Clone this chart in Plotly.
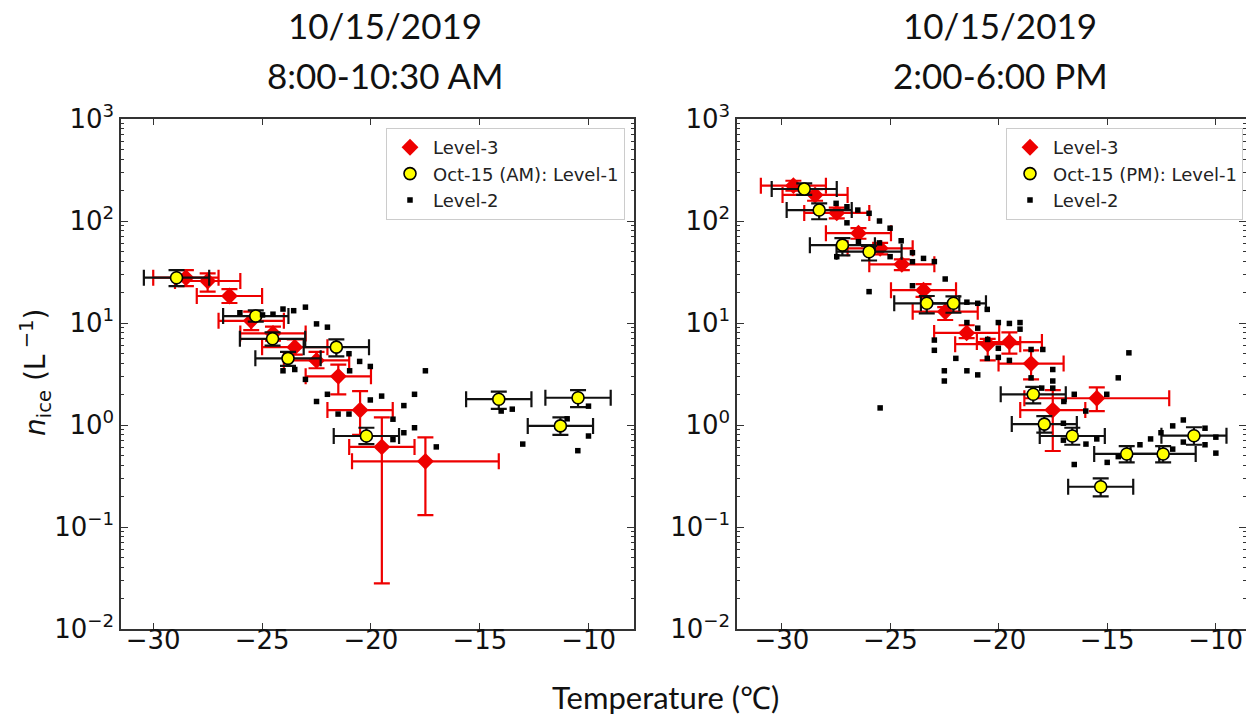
import numpy as np
import plotly.graph_objects as go

# ---------------- 10/15/2019, 8:00-10:30 AM ----------------
am_l3_T = [-28.5, -27.5, -26.5, -25.5, -24.5, -23.5, -22.5, -21.5, -20.5, -19.5, -17.5]
am_l3_n = [27.8, 25.8, 18.4, 10.5, 7.9, 5.8, 4.3, 3.0, 1.40, 0.61, 0.44]
am_l3_lo = [23.0, 20.3, 15.7, 8.5, 6.7, 4.9, 3.6, 2.0, 0.80, 0.028, 0.131]
am_l3_hi = [33.0, 30.7, 21.5, 12.9, 9.2, 6.9, 5.2, 3.9, 2.15, 1.19, 0.757]
am_l3_dT = [1.5, 1.5, 1.5, 1.5, 1.5, 1.5, 1.5, 1.5, 1.5, 1.5, 3.37]

am_l1_T = [-28.93, -25.29, -24.52, -23.81, -21.59, -20.21, -14.13, -11.30, -10.49]
am_l1_n = [27.8, 11.7, 7.0, 4.5, 5.8, 0.78, 1.79, 0.98, 1.85]
am_l1_lo = [23.0, 10.3, 6.0, 3.8, 4.7, 0.65, 1.44, 0.80, 1.50]
am_l1_hi = [33.0, 13.3, 8.1, 5.2, 6.9, 0.94, 2.12, 1.19, 2.20]
am_l1_dT = [1.5, 1.5, 1.5, 1.5, 1.5, 1.5, 1.5, 1.5, 1.5]

am_l2_T = [-24.04, -23.55, -23.01, -24.50, -22.50, -22.00, -21.01, -20.52, -20.03, -20.98,
           -23.01, -22.00, -22.50, -21.51, -21.01, -20.03, -24.04, -23.50, -24.98, -26.02,
           -17.50, -19.51, -18.00, -18.49, -18.99, -18.00, -18.49, -18.99, -17.00, -14.02,
           -13.51, -10.01, -10.99, -10.01, -13.03, -10.50]
am_l2_n = [13.7, 13.2, 14.3, 12.2, 9.8, 9.1, 5.0, 4.2, 3.75, 3.4,
           2.8, 2.0, 1.7, 1.28, 1.28, 1.76, 3.4, 3.5, 12.0, 12.6,
           3.4, 1.92, 2.0, 1.55, 1.14, 0.94, 0.84, 0.72, 0.61, 1.37,
           1.43, 1.53, 1.15, 0.78, 0.65, 0.56]

# ---------------- 10/15/2019, 2:00-6:00 PM ----------------
pm_l3_T = [-29.47, -28.47, -27.47, -26.47, -25.47, -24.47, -23.47, -22.47, -21.48, -20.51,
           -19.51, -18.51, -17.51, -15.48]
pm_l3_n = [222, 180, 120, 76, 54, 37.6, 21, 12.9, 8.0, 6.2, 6.5, 4.0, 1.40, 1.83]
pm_l3_lo = [198, 158, 106, 67, 47, 33, 18, 10.7, 7.1, 4.3, 5.0, 2.8, 0.556, 1.37]
pm_l3_hi = [248, 205, 135, 85, 61, 42, 24, 14.3, 9.5, 7.0, 8.1, 5.4, 2.20, 2.34]
pm_l3_dT = [1.5, 1.5, 1.5, 1.5, 1.5, 1.5, 1.5, 1.5, 1.5, 1.5, 1.5, 1.5, 1.5, 3.34]

pm_l1_T = [-28.97, -28.28, -27.21, -25.98, -23.32, -22.09, -18.41, -17.90, -16.61, -14.10,
           -12.42, -11.00, -15.30]
pm_l1_n = [206, 128, 58, 50, 15.6, 15.6, 2.0, 1.02, 0.78, 0.52, 0.52, 0.785, 0.248]
pm_l1_lo = [180, 104, 46, 41, 12.4, 12.6, 1.63, 0.84, 0.64, 0.43, 0.43, 0.64, 0.20]
pm_l1_hi = [234, 149, 68, 57, 18.4, 18.2, 2.37, 1.22, 0.94, 0.62, 0.62, 0.95, 0.30]
pm_l1_dT = [1.5, 1.5, 1.5, 1.5, 1.5, 1.5, 1.5, 1.5, 1.5, 1.5, 1.5, 1.5, 1.5]

pm_l2_T = [-27.50, -27.00, -26.50, -25.98, -27.00, -25.50, -25.01, -24.50, -25.50, -25.01,
           -23.98, -23.98, -23.47, -22.97, -25.98, -22.47, -23.98, -22.97, -22.97, -26.47,
           -27.47, -21.47, -20.53, -20.97, -21.47, -20.02, -19.51, -19.02, -19.02, -20.97,
           -21.98, -20.53, -20.02, -19.51, -20.02, -20.51, -18.51, -17.97, -22.51, -22.51,
           -21.47, -20.97, -17.51, -17.51, -18.51, -14.00, -14.49, -16.52, -15.02, -17.00,
           -15.99, -18.02, -17.51, -17.02, -17.02, -15.98, -15.48, -16.52, -15.00, -14.49,
           -13.49, -13.00, -11.98, -11.49, -11.49, -10.49, -10.49, -9.99, -9.99, -12.52,
           -11.98, -25.47]
pm_l2_n = [149, 138, 128, 119, 96, 100, 85, 64, 61, 44.7,
           48.9, 39.9, 43, 40, 20.3, 27, 23.2, 6.8, 5.4, 62.7,
           44.7, 16, 13.6, 15.6, 10.1, 10.1, 9.9, 10.1, 8.7, 8.9,
           4.5, 4.5, 4.6, 4.3, 5.65, 6.9, 5.5, 5.5, 3.4, 2.7,
           3.4, 3.1, 3.5, 2.7, 2.9, 5.1, 2.9, 2.0, 2.0, 1.7,
           1.37, 2.3, 2.3, 1.04, 0.71, 0.65, 0.73, 0.41, 0.43, 0.49,
           0.64, 0.73, 0.98, 1.12, 0.68, 0.93, 0.64, 0.76, 0.53, 0.84,
           0.58, 1.47]

# axis ticks
x_ticks = [-30, -25, -20, -15, -10]
y_exponents = [-2, -1, 0, 1, 2, 3]

RED = "#ee0000"
AXIS = "#333333"
TICK_FONT = dict(family="DejaVu Sans", size=26, color="#111111")
W, H = 1246, 715


def err(n, lo, hi):
    n, lo, hi = map(np.asarray, (n, lo, hi))
    return dict(type="data", symmetric=False, array=hi - n, arrayminus=n - lo)


fig = go.Figure()


def add_panel(xa, ya, legend, T3, n3, lo3, hi3, dT3, T1, n1, lo1, hi1, dT1, T2, n2, l1_name):
    fig.add_trace(go.Scatter(
        x=T3, y=n3, mode="markers", name="Level-3", xaxis=xa, yaxis=ya, legend=legend,
        marker=dict(symbol="diamond", size=13, color=RED, line=dict(width=0)),
        error_x=dict(type="data", array=dT3, color=RED, thickness=2.2, width=8),
        error_y=dict(**err(n3, lo3, hi3), color=RED, thickness=2.2, width=8),
    ))
    fig.add_trace(go.Scatter(
        x=T1, y=n1, mode="markers", name=l1_name, xaxis=xa, yaxis=ya, legend=legend,
        marker=dict(symbol="circle", size=12, color="#ffff00", line=dict(width=1.6, color="black")),
        error_x=dict(type="data", array=dT1, color="#111111", thickness=2.2, width=8),
        error_y=dict(**err(n1, lo1, hi1), color="#111111", thickness=2.2, width=8),
    ))
    fig.add_trace(go.Scatter(
        x=T2, y=n2, mode="markers", name="Level-2", xaxis=xa, yaxis=ya, legend=legend,
        marker=dict(symbol="square", size=5.5, color="black"),
    ))


add_panel("x", "y", "legend", am_l3_T, am_l3_n, am_l3_lo, am_l3_hi, am_l3_dT,
          am_l1_T, am_l1_n, am_l1_lo, am_l1_hi, am_l1_dT, am_l2_T, am_l2_n,
          "Oct-15 (AM): Level-1")
add_panel("x2", "y2", "legend2", pm_l3_T, pm_l3_n, pm_l3_lo, pm_l3_hi, pm_l3_dT,
          pm_l1_T, pm_l1_n, pm_l1_lo, pm_l1_hi, pm_l1_dT, pm_l2_T, pm_l2_n,
          "Oct-15 (PM): Level-1")

y_top, y_bot = 119, 629
ydom = [1 - y_bot / H, 1 - y_top / H]

xcommon = dict(
    tickmode="array", tickvals=x_ticks,
    ticks="inside", ticklen=6, tickwidth=1.3, tickcolor=AXIS, ticklabelstandoff=-13,
    showline=True, linecolor=AXIS, linewidth=1.5, mirror="ticks",
    showgrid=False, zeroline=False, tickfont=TICK_FONT, automargin=False,
)
ycommon = dict(
    type="log", range=[-2, 3], tickmode="array",
    tickvals=[10.0 ** e for e in y_exponents],
    ticktext=[f"10<sup>{e}</sup>".replace("-", "−") for e in y_exponents],
    ticks="inside", ticklen=7, tickwidth=1.3, tickcolor=AXIS,
    minor=dict(ticks="inside", ticklen=3.5, tickwidth=1, tickcolor=AXIS, dtick="D1", showgrid=False),
    showline=True, linecolor=AXIS, linewidth=1.5, mirror="ticks",
    showgrid=False, zeroline=False, tickfont=TICK_FONT, automargin=False,
)

LEG = dict(yanchor="top", xanchor="right", y=1 - 128 / H,
           bgcolor="white", bordercolor="#cccccc", borderwidth=1, itemwidth=36,
           font=dict(family="DejaVu Sans", size=18, color="#222222"), tracegroupgap=0)

fig.update_layout(
    width=W, height=H, margin=dict(l=0, r=0, t=0, b=0),
    paper_bgcolor="white", plot_bgcolor="white", showlegend=True,
    xaxis=dict(domain=[121 / W, 634 / W], range=[-31.48, -7.92], anchor="y", **xcommon),
    yaxis=dict(domain=ydom, anchor="x", **ycommon),
    xaxis2=dict(domain=[737 / W, 1.0], range=[-32.07, -8.60], anchor="y2", **xcommon),
    yaxis2=dict(domain=ydom, anchor="x2", **ycommon),
    legend=dict(x=625 / W, **LEG),
    legend2=dict(x=1243 / W, **LEG),
)

TITLE_FONT = dict(family="Lato", size=35, color="#111111")
for cx, lines in [(385, ["10/15/2019", "8:00-10:30 AM"]), (1000, ["10/15/2019", "2:00-6:00 PM"])]:
    for cy, txt in zip([25, 75], lines):
        fig.add_annotation(x=cx / W, y=1 - cy / H, xref="paper", yref="paper",
                           text=txt, showarrow=False, font=TITLE_FONT,
                           xanchor="center", yanchor="middle")

fig.add_annotation(x=665 / W, y=1 - 697 / H, xref="paper", yref="paper",
                   text="Temperature (℃)", showarrow=False,
                   font=dict(family="Lato", size=31, color="#111111"),
                   xanchor="center", yanchor="middle")
fig.add_annotation(x=35 / W, y=1 - 372 / H, xref="paper", yref="paper",
                   text="<i>n</i><sub>ice</sub> (L<sup> −1</sup>)", showarrow=False,
                   textangle=-90, font=dict(family="DejaVu Sans", size=28, color="#111111"),
                   xanchor="center", yanchor="middle")

fig.write_html("out.html")
